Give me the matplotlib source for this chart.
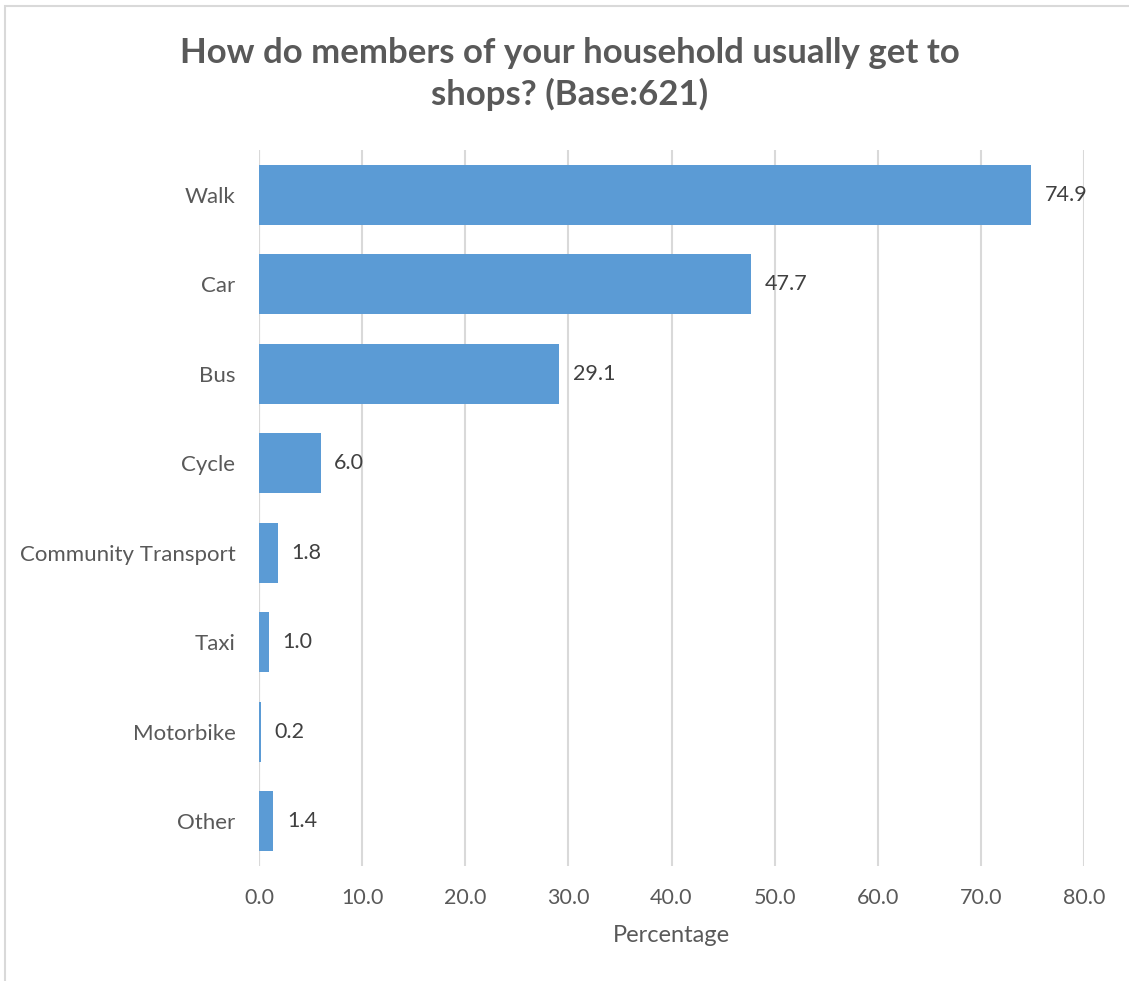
import matplotlib.pyplot as plt
from matplotlib.patches import Rectangle

# data
categories = ['Walk', 'Car', 'Bus', 'Cycle', 'Community Transport', 'Taxi', 'Motorbike', 'Other']
values = [74.9, 47.7, 29.1, 6.0, 1.8, 1.0, 0.2, 1.4]
xticks = [0, 10, 20, 30, 40, 50, 60, 70, 80]

grey = '#595959'
plt.rcParams['font.family'] = ['Lato', 'DejaVu Sans']

fig = plt.figure(figsize=(11.29, 9.81), dpi=100)
ax = fig.add_axes([259 / 1129, 1 - 866 / 981, (1084 - 259) / 1129, (866 - 150) / 981])

# outer chart border (only left/top visible in the crop)
fig.patches.append(Rectangle((5 / 1129, -0.1), 1.2, 1 - 6 / 981 + 0.1,
                             transform=fig.transFigure, fill=False,
                             edgecolor='#D9D9D9', linewidth=1.5))

ypos = list(range(len(categories)))
ax.barh(ypos, values, height=0.67, color='#5B9BD5', zorder=3)
for y, v in zip(ypos, values):
    ax.text(v + 1.3, y, f'{v:.1f}', va='center', ha='left', fontsize=15.5, color='#404040')

ax.set_yticks(ypos)
ax.set_yticklabels(categories, fontsize=16, color=grey)
ax.set_ylim(len(categories) - 0.5, -0.5)
ax.set_xlim(0, 80)
ax.set_xticks(xticks)
ax.set_xticklabels([f'{t:.1f}' for t in xticks], fontsize=15.5, color=grey)
ax.tick_params(axis='y', length=0, pad=17)
ax.tick_params(axis='x', length=0, pad=16)
ax.grid(axis='x', color='#D9D9D9', linewidth=1.5, zorder=0)
for s in ax.spines.values():
    s.set_visible(False)
ax.axvline(0, color='#D9D9D9', linewidth=1.5, zorder=1)

ax.set_xlabel('Percentage', fontsize=17, color=grey, labelpad=12)

fig.text(570 / 1129, 1 - 74 / 981,
         'How do members of your household usually get to\nshops? (Base:621)',
         ha='center', va='center', fontsize=25, fontweight='bold', color=grey,
         linespacing=1.3)

fig.savefig('out.png', dpi=100)
